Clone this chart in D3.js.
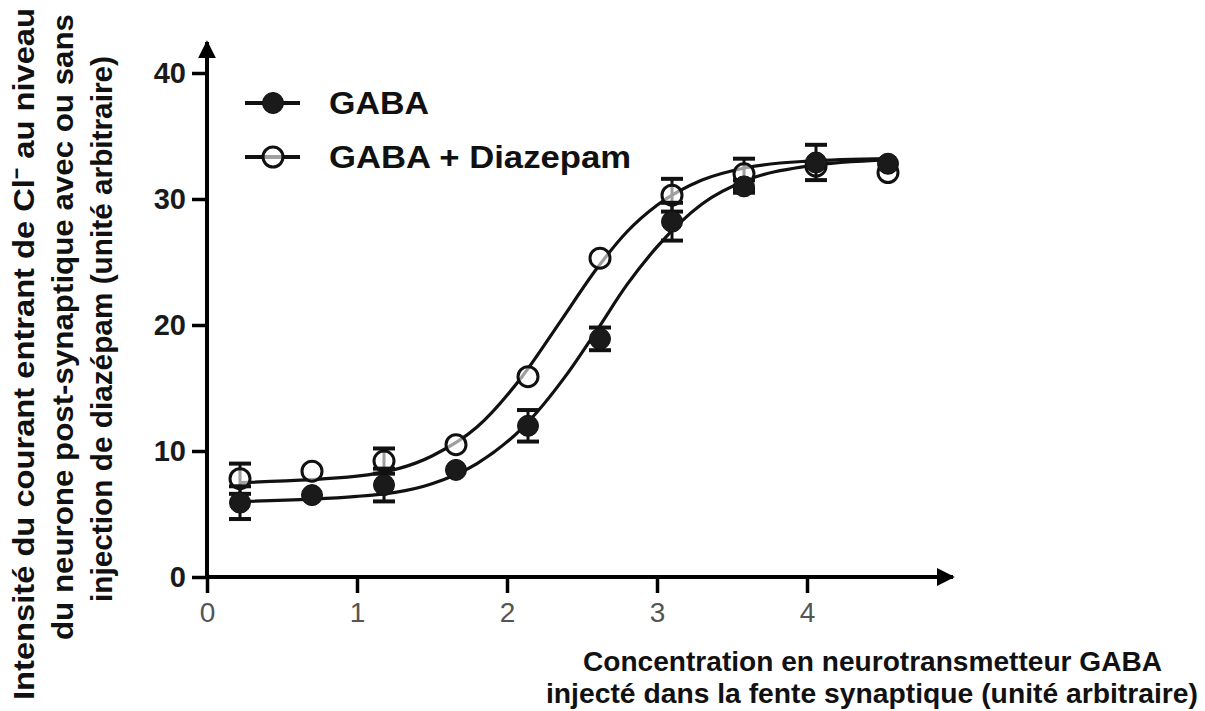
<!DOCTYPE html>
<html>
<head>
<meta charset="utf-8">
<script src="https://cdn.jsdelivr.net/npm/d3@7"></script>
<style>
body { margin:0; background:#fff; }
svg text { font-family: "Liberation Sans", Arial, sans-serif; }
</style>
</head>
<body>
<svg id="chart"></svg>
<script>
// concentration values (x) shared by both series
var concentrations = [0.22, 0.70, 1.18, 1.66, 2.14, 2.62, 3.10, 3.58, 4.06, 4.54];
// GABA alone (filled circles)
var gabaValues = [5.9, 6.5, 7.3, 8.5, 12.0, 18.9, 28.2, 31.0, 32.9, 32.8];
var gabaErrors = [1.3, 0, 1.3, 0, 1.25, 0.9, 1.5, 0.5, 1.4, 0];
// GABA + Diazepam (open circles)
var diazValues = [7.8, 8.4, 9.2, 10.5, 15.9, 25.3, 30.3, 32.0, 32.6, 32.1];
var diazErrors = [1.2, 0, 1.0, 0, 0, 0, 1.3, 1.2, 0, 0];
// fitted curves
var gabaFitX = [0.22, 1.0, 1.5, 1.8, 2.1, 2.4, 2.6, 2.8, 3.0, 3.3, 3.6, 4.0, 4.54];
var gabaFitY = [6.0, 6.4, 7.4, 9.0, 11.8, 16.1, 19.6, 23.2, 26.2, 29.6, 31.5, 32.6, 33.1];
var diazFitX = [0.22, 1.0, 1.5, 1.8, 2.1, 2.36, 2.6, 2.8, 3.0, 3.3, 3.6, 4.0, 4.54];
var diazFitY = [7.5, 8.0, 9.6, 11.9, 15.9, 20.35, 24.5, 27.4, 29.5, 31.5, 32.5, 33.0, 33.2];
// ticks
var xTicks = [0, 1, 2, 3, 4];
var yTicks = [0, 10, 20, 30, 40];
var legendNames = ["GABA", "GABA + Diazepam"];

var screen = {width:1205, height:711};

var svg = d3.select("#chart")
    .attr("width", screen.width)
    .attr("height", screen.height);

var xScale = d3.scaleLinear().domain([0,4]).range([207,807]);
var yScale = d3.scaleLinear().domain([0,40]).range([577,73]);

// arrow head
svg.append("defs").append("marker")
    .attr("id","arrow")
    .attr("viewBox","0 0 10 10")
    .attr("refX",9).attr("refY",5)
    .attr("markerWidth",4.5).attr("markerHeight",4.5)
    .attr("markerUnits","strokeWidth")
    .attr("orient","auto")
    .append("path")
    .attr("d","M0,0 L10,5 L0,10 z")
    .attr("fill","#000");

//Create y axis
var yAxis = d3.axisLeft(yScale).tickValues(yTicks).tickFormat(d3.format("d"))
    .tickSize(15).tickPadding(6);
var yG = svg.append("g")
    .attr("transform","translate(" + xScale(0) + ",0)")
    .call(yAxis);
yG.select(".domain").remove();
yG.selectAll("line").attr("stroke","#000").attr("stroke-width",3.5);
yG.selectAll("text")
    .attr("font-size",29)
    .attr("font-weight","bold")
    .attr("fill","#1a1a1a")
    .style("font-family","'Liberation Sans', Arial, sans-serif");

//Create x axis
var xAxis = d3.axisBottom(xScale).tickValues(xTicks).tickFormat(d3.format("d"))
    .tickSize(16).tickPadding(9);
var xG = svg.append("g")
    .attr("transform","translate(0," + yScale(0) + ")")
    .call(xAxis);
xG.select(".domain").remove();
xG.selectAll("line").attr("stroke","#000").attr("stroke-width",3.5);
xG.selectAll("text")
    .attr("font-size",28)
    .attr("fill","#555")
    .style("font-family","'Liberation Sans', Arial, sans-serif");

// axis lines with arrows
svg.append("line")
    .attr("x1",xScale(0)).attr("y1",yScale(0)+2)
    .attr("x2",xScale(0)).attr("y2",yScale(40)-31)
    .attr("stroke","#000").attr("stroke-width",4)
    .attr("marker-end","url(#arrow)");
svg.append("line")
    .attr("x1",xScale(0)-2).attr("y1",yScale(0))
    .attr("x2",xScale(4)+146).attr("y2",yScale(0))
    .attr("stroke","#000").attr("stroke-width",4)
    .attr("marker-end","url(#arrow)");

// fitted curves
var line = d3.line()
    .x(function(d){return xScale(d[0]);})
    .y(function(d){return yScale(d[1]);})
    .curve(d3.curveMonotoneX);

var fits = [d3.zip(gabaFitX, gabaFitY), d3.zip(diazFitX, diazFitY)];
svg.append("g").selectAll("path")
    .data(fits)
    .enter()
    .append("path")
    .attr("d", line)
    .attr("fill","none")
    .attr("stroke","#111")
    .attr("stroke-width",3.2);

// points + error bars
var drawSeries = function(values, errors, filled)
{
    var pts = concentrations.map(function(c,i){return {x:c, y:values[i], e:errors[i]};});
    var g = svg.append("g");
    var bars = g.selectAll("g.err")
        .data(pts.filter(function(p){return p.e > 0;}))
        .enter().append("g");
    bars.append("line")
        .attr("x1",function(p){return xScale(p.x);})
        .attr("x2",function(p){return xScale(p.x);})
        .attr("y1",function(p){return yScale(p.y - p.e);})
        .attr("y2",function(p){return yScale(p.y + p.e);})
        .attr("stroke","#111").attr("stroke-width",3);
    [-1,1].forEach(function(s){
        bars.append("line")
            .attr("x1",function(p){return xScale(p.x)-11;})
            .attr("x2",function(p){return xScale(p.x)+11;})
            .attr("y1",function(p){return yScale(p.y + s*p.e);})
            .attr("y2",function(p){return yScale(p.y + s*p.e);})
            .attr("stroke","#111").attr("stroke-width",4);
    });
    g.selectAll("circle")
        .data(pts)
        .enter().append("circle")
        .attr("cx",function(p){return xScale(p.x);})
        .attr("cy",function(p){return yScale(p.y);})
        .attr("r", filled ? 10.5 : 10)
        .attr("fill", filled ? "#1a1a1a" : "#fff")
        .attr("fill-opacity", filled ? 1 : 0.6)
        .attr("stroke","#111")
        .attr("stroke-width", filled ? 1 : 3);
};
drawSeries(diazValues, diazErrors, false);
drawSeries(gabaValues, gabaErrors, true);

// legend
var legend = svg.append("g");
var entries = legend.selectAll("g")
    .data(legendNames)
    .enter().append("g")
    .attr("transform",function(d,i){return "translate(0," + (103 + i*54) + ")";});
entries.append("line")
    .attr("x1",245).attr("x2",300)
    .attr("stroke","#111").attr("stroke-width",4);
entries.append("circle")
    .attr("cx",273).attr("r",function(d,i){return i==0 ? 10.5 : 10;})
    .attr("fill",function(d,i){return i==0 ? "#1a1a1a" : "#fff";})
    .attr("fill-opacity",function(d,i){return i==0 ? 1 : 0.6;})
    .attr("stroke","#111")
    .attr("stroke-width",function(d,i){return i==0 ? 1 : 3;});
entries.append("text")
    .text(function(d){return d;})
    .attr("x",329).attr("y",11)
    .attr("font-size",31)
    .attr("font-weight","bold")
    .attr("fill","#111")
    .attr("textLength",function(d,i){return i==0 ? 100 : 302;})
    .attr("lengthAdjust","spacingAndGlyphs");

// y title (three rotated lines)
var yTitle = [
    {t:"Intensité du courant entrant de Cl\u207B au niveau", x:34, y0:700, len:692},
    {t:"du neurone post-synaptique  avec ou sans", x:73, y0:640, len:626},
    {t:"injection de diazépam (unité arbitraire)", x:112, y0:602, len:546}
];
svg.append("g").selectAll("text")
    .data(yTitle)
    .enter().append("text")
    .attr("transform",function(d){return "translate(" + d.x + "," + d.y0 + ") rotate(-90)";})
    .text(function(d){return d.t;})
    .attr("font-size",29)
    .attr("font-weight","bold")
    .attr("fill","#111")
    .attr("textLength",function(d){return d.len;})
    .attr("lengthAdjust","spacingAndGlyphs");

// x title
var xTitle = [
    {t:"Concentration  en neurotransmetteur  GABA", x:583, y:671, len:579},
    {t:"injecté dans la fente synaptique (unité arbitraire)", x:546, y:703, len:652}
];
svg.append("g").selectAll("text")
    .data(xTitle)
    .enter().append("text")
    .attr("x",function(d){return d.x;})
    .attr("y",function(d){return d.y;})
    .text(function(d){return d.t;})
    .attr("font-size",27)
    .attr("font-weight","bold")
    .attr("fill","#111")
    .attr("textLength",function(d){return d.len;})
    .attr("lengthAdjust","spacingAndGlyphs");
</script>
</body>
</html>
